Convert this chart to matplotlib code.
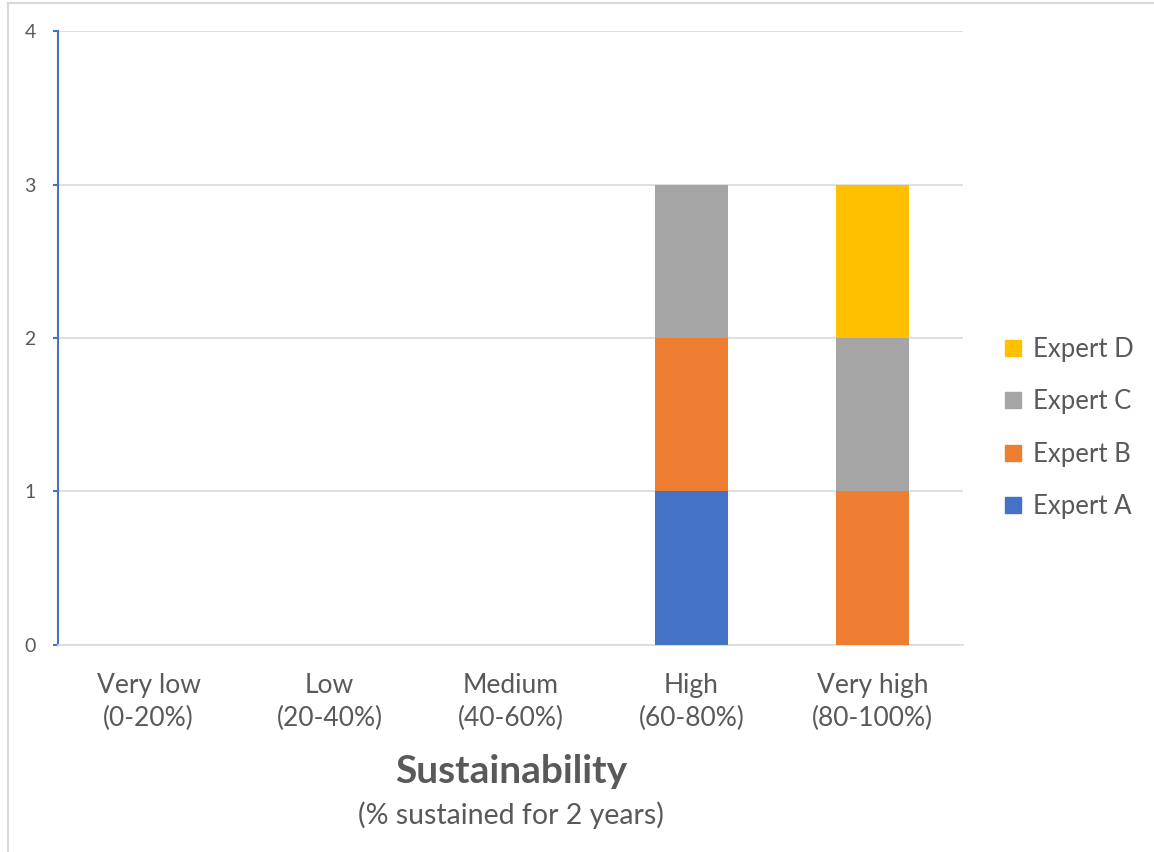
import numpy as np
import matplotlib
matplotlib.use("Agg")
import matplotlib.pyplot as plt
from matplotlib.lines import Line2D

plt.rcParams["font.family"] = ["Lato", "DejaVu Sans"]

# Sustainability ratings given by each expert, per category
categories = ["Very low\n(0-20%)", "Low\n(20-40%)", "Medium\n(40-60%)",
              "High\n(60-80%)", "Very high\n(80-100%)"]
experts = ["Expert A", "Expert B", "Expert C", "Expert D"]
expert_a = [0, 0, 0, 1, 0]
expert_b = [0, 0, 0, 1, 1]
expert_c = [0, 0, 0, 1, 1]
expert_d = [0, 0, 0, 0, 1]
series = [expert_a, expert_b, expert_c, expert_d]
colors = ["#4472C4", "#ED7D31", "#A5A5A5", "#FFC000"]

TEXT = "#595959"
GRID = "#D9D9D9"

fig = plt.figure(figsize=(11.54, 8.52), dpi=100)
ax = fig.add_axes([0.0503, 0.2430, 0.7842, 0.7206])

x = np.arange(len(categories))
bottom = np.zeros(len(categories))
for name, vals, col in zip(experts, series, colors):
    vals = np.array(vals, dtype=float)
    ax.bar(x, vals, width=0.4, bottom=bottom, color=col, label=name,
           zorder=3, linewidth=0)
    bottom += vals

ax.set_xlim(-0.5, len(categories) - 0.5)
ax.set_ylim(0, 4)
ax.set_yticks([0, 1, 2, 3, 4])
ax.yaxis.grid(True, color=GRID, lw=1.2, zorder=0)
ax.set_axisbelow(True)

for side in ("top", "right"):
    ax.spines[side].set_visible(False)
ax.spines["bottom"].set_color(GRID)
ax.spines["bottom"].set_linewidth(1.2)
ax.spines["left"].set_color("#4472C4")
ax.spines["left"].set_linewidth(1.5)

ax.tick_params(axis="y", colors="#4472C4", labelcolor=TEXT, length=3.5,
               width=1.5, labelsize=14, pad=12.5)
ax.tick_params(axis="x", length=0, labelcolor=TEXT, labelsize=19, pad=20)
ax.set_xticks(x)
ax.set_xticklabels(categories, linespacing=1.42)

fig.text(0.4428, 0.095, "Sustainability", ha="center", va="center",
         fontsize=28, fontweight="bold", color=TEXT)
fig.text(0.4428, 0.043, "(% sustained for 2 years)", ha="center",
         va="center", fontsize=20.5, color=TEXT)

handles = [Line2D([0], [0], marker="s", lw=0, color=c, markersize=12, label=n)
           for n, c in zip(experts, colors)][::-1]
fig.legend(handles=handles, loc="center left", bbox_to_anchor=(0.847, 0.4977),
           frameon=False, fontsize=18.5, labelcolor=TEXT, handletextpad=0.25,
           labelspacing=1.07, handlelength=1.0)

# Chart-area frame (top and left edges)
fig.add_artist(Line2D([0.0069, 1.0], [0.9965, 0.9965], color="#D9D9D9",
                      lw=1.5, transform=fig.transFigure))
fig.add_artist(Line2D([0.0069, 0.0069], [0.0, 0.9965], color="#D9D9D9",
                      lw=1.5, transform=fig.transFigure))

fig.savefig("out.png", dpi=100)
